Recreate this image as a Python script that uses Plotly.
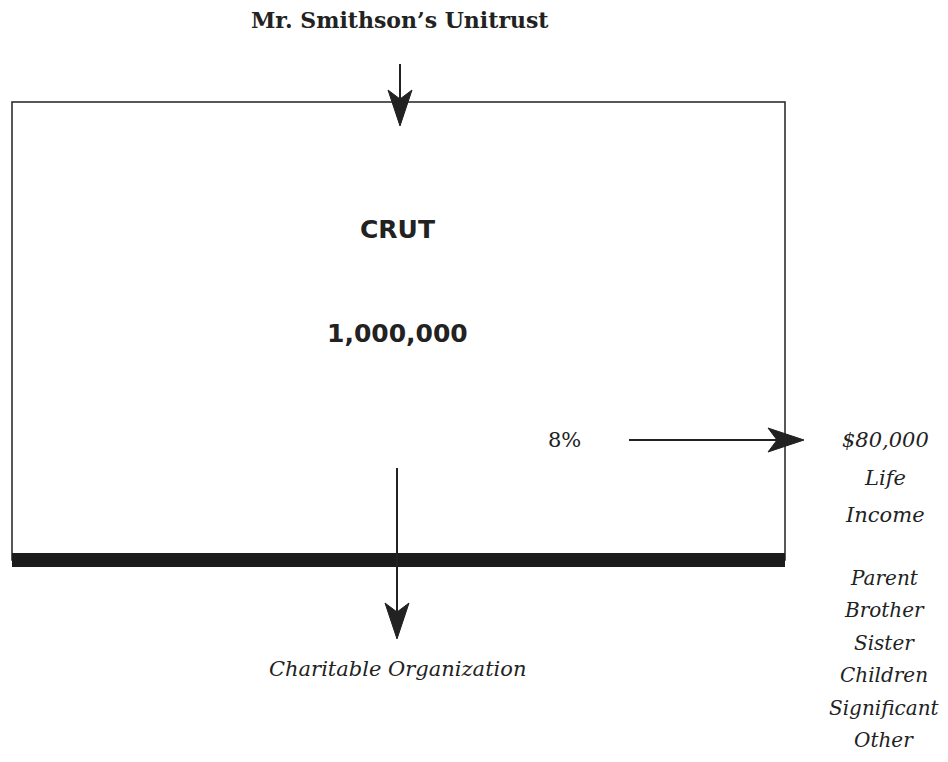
import plotly.graph_objects as go

# Texte des Diagramms
titel = "Mr. Smithson\u2019s Unitrust"
box_labels = ["CRUT", "1,000,000"]
rate_label = "8%"
income_lines = ["$80,000", "Life", "Income"]
beneficiaries = ["Parent", "Brother", "Sister", "Children", "Significant", "Other"]
charity = "Charitable Organization"

W, H = 948, 762
PAD = 8  # Standard-Rand des HTML-Bodys
serif = "DejaVu Serif, Liberation Serif, serif"
sans = "DejaVu Sans, Liberation Sans, sans-serif"
ink = "#222222"

fig = go.Figure()

# Rahmen der Trust-Box und dicker unterer Balken
fig.add_shape(type="rect", x0=12, x1=785, y0=102, y1=560,
              line=dict(color=ink, width=1.5), fillcolor="white", layer="below")
fig.add_shape(type="rect", x0=12, x1=785, y0=553, y1=567,
              line=dict(width=0), fillcolor="#1c1c1c")


def arrow(x0, y0, x1, y1, head=36, half=12, notch=9):
    # Schaft plus gefüllte Pfeilspitze mit eingekerbter Rückseite
    dx, dy = x1 - x0, y1 - y0
    n = (dx ** 2 + dy ** 2) ** 0.5
    ux, uy = dx / n, dy / n
    px, py = -uy, ux
    bx, by = x1 - ux * head, y1 - uy * head
    nx, ny = x1 - ux * (head - notch), y1 - uy * (head - notch)
    fig.add_shape(type="line", x0=x0, y0=y0, x1=nx, y1=ny, line=dict(color=ink, width=2))
    path = (f"M{x1},{y1} L{bx + px * half},{by + py * half} L{nx},{ny} "
            f"L{bx - px * half},{by - py * half} Z")
    fig.add_shape(type="path", path=path, fillcolor=ink, line=dict(color=ink, width=1))


arrow(400, 64, 400, 126)
arrow(397, 468, 397, 639)
arrow(629, 440, 804, 440)

# Titel
fig.add_annotation(x=400, y=20, text="<b>" + titel + "</b>", showarrow=False,
                   font=dict(family=serif, size=22, color=ink))

# Box-Beschriftung
for txt, y in zip(box_labels, [229, 333]):
    fig.add_annotation(x=397, y=y, text="<b>" + txt + "</b>", showarrow=False,
                       font=dict(family=sans, size=25, color=ink))

fig.add_annotation(x=564, y=440, text=rate_label, showarrow=False,
                   font=dict(family=serif, size=21, color=ink))

for txt, y in zip(income_lines, [440, 478, 515]):
    fig.add_annotation(x=885, y=y, text="<i>" + txt + "</i>", showarrow=False,
                       font=dict(family=serif, size=21, color=ink))

for i, txt in enumerate(beneficiaries):
    fig.add_annotation(x=884, y=578 + i * 32.4, text="<i>" + txt + "</i>", showarrow=False,
                       font=dict(family=serif, size=20, color=ink))

fig.add_annotation(x=397, y=669, text="<i>" + charity + "</i>", showarrow=False,
                   font=dict(family=serif, size=21, color=ink))

fig.update_xaxes(range=[PAD, W], visible=False, fixedrange=True)
fig.update_yaxes(range=[H, PAD], visible=False, fixedrange=True)
fig.update_layout(width=W - PAD, height=H - PAD, margin=dict(l=0, r=0, t=0, b=0),
                  plot_bgcolor="white", paper_bgcolor="white", showlegend=False)

fig.write_html("out.html")
